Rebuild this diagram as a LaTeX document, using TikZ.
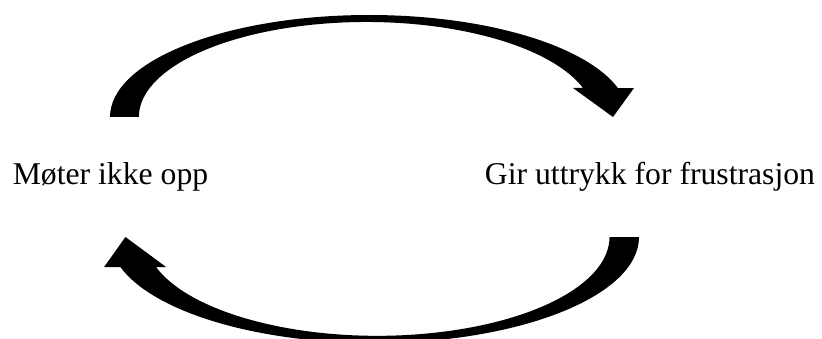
\documentclass[tikz,border=0pt]{standalone}
\usepackage{fontspec}
\setmainfont{Liberation Serif}
\usetikzlibrary{positioning}

\tikzset{
  cyclelabel/.style={font=\fontsize{31.7}{36}\selectfont, inner sep=0pt, anchor=base},
  % thick curved block arrow, tail at the origin, bending over to the right
  bendarrow/.pic={
    \fill (0,0) arc[start angle=180, end angle=16.5, x radius=259.3, y radius=102]
      -- (524,29) -- (503,0) -- (463,29) -- (473,29)
      arc[start angle=17.77, end angle=180, x radius=227.5, y radius=95] -- cycle;
  },
}

\begin{document}
\begin{tikzpicture}[x=1pt, y=1pt]
  \useasboundingbox (0,0) rectangle (822,338);
  \node[cyclelabel] (moter) at (110.5,154) {Møter ikke opp};
  \node[cyclelabel] (gir) at (650,154) {Gir uttrykk for frustrasjon};
  \coordinate (toptail) at (110,221);
  \coordinate (bottail) at (639,101);
  \pic at (toptail) {bendarrow};
  \pic[xscale=-1.021, yscale=-1.04] at (bottail) {bendarrow};
\end{tikzpicture}
\end{document}
